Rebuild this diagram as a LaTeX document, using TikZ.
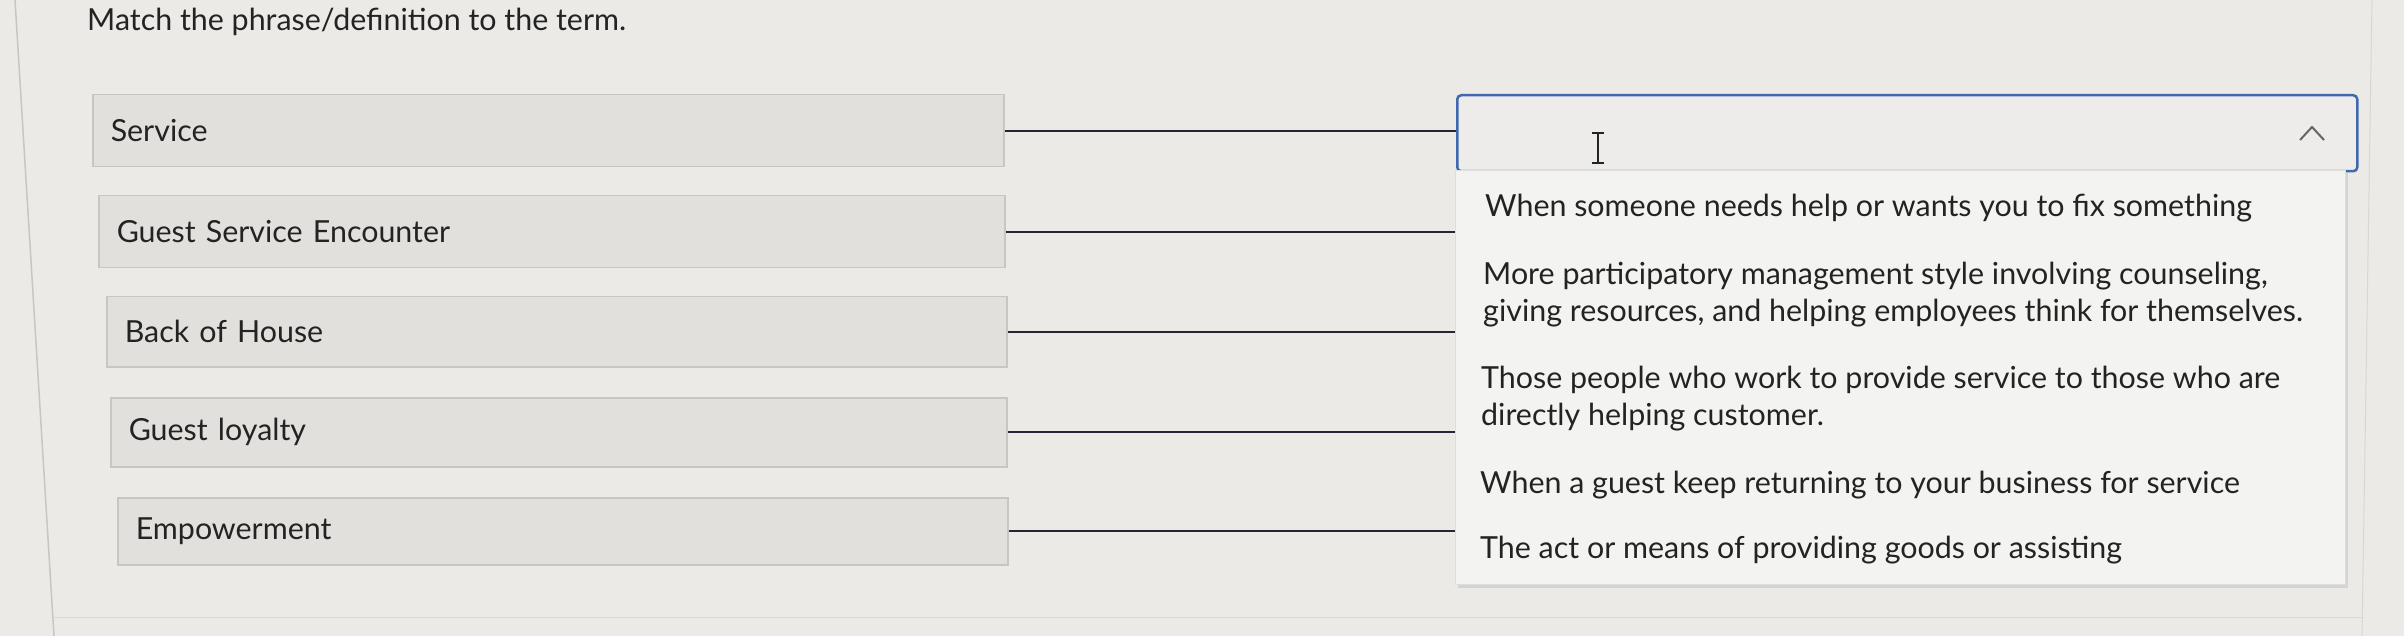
\documentclass[tikz,border=0pt]{standalone}
\usepackage{fontspec}
\setmainfont{Lato}
\usetikzlibrary{positioning,shadows}
\definecolor{pagebg}{HTML}{EBEAE7}
\definecolor{boxfill}{HTML}{E1E0DD}
\definecolor{boxline}{HTML}{C6C6C4}
\definecolor{listfill}{HTML}{F3F3F1}
\definecolor{dropblue}{HTML}{3F68AE}
\definecolor{inktext}{HTML}{232323}
\definecolor{linkink}{HTML}{2A2236}
\begin{document}
\begin{tikzpicture}[x=1pt,y=-1pt,
  every node/.style={font=\fontsize{30.4}{37}\selectfont,text=inktext,inner sep=0pt},
  term/.style={draw=boxline,fill=boxfill,line width=1.5pt,anchor=north west,
    inner xsep=18pt,align=left,minimum height=#1},
  link/.style={draw=linkink,line width=2pt},
  choice/.style={anchor=west,align=left}]
\useasboundingbox[fill=pagebg] (0,0) rectangle (2404,636);
\draw[boxline,line width=1.5pt] (15,0) -- (54,636);
\draw[boxline!70,line width=1pt] (54,617) -- (2362,617);
\draw[boxline!70,line width=1pt] (2372,0) -- (2362,636);
\node[anchor=base west] (title) at (87,31) {Match the phrase/definition to the term.};
% terms
\node[term=72pt,text width=875pt] (t1) at (92,94) {Service};
\node[term=72pt,text width=870pt] (t2) at (98,195) {Guest Service Encounter};
\node[term=70pt,text width=864pt] (t3) at (106,296) {Back of House};
\node[term=69pt,text width=860pt] (t4) at (110,397) {Guest loyalty};
\node[term=67pt,text width=854pt] (t5) at (117,497) {Empowerment};
% dropdown and its open list
\node[draw=dropblue,fill=boxfill!60!white,line width=2.5pt,rounded corners=4pt,
  anchor=north west,minimum width=900pt,minimum height=76pt] (drop) at (1456,94) {};
\node[draw=boxline!60,fill=listfill,line width=1pt,anchor=north west,
  minimum width=890pt,minimum height=414pt,
  drop shadow={opacity=0.2,shadow xshift=2pt,shadow yshift=-3pt}] (list) at (1455,170) {};
\draw[inktext,line width=2pt] (1592,133) -- (1604,133) (1598,133) -- (1598,163) (1592,163) -- (1604,163);
\draw[inktext!70,line width=2pt] (2300,140) -- (2312,127) -- (2324,140);
\node[choice] (c1) at (1485,208) {When someone needs help or wants you to fix something};
\node[choice] (c2) at (1483,295) {More participatory management style involving counseling,\\giving resources, and helping employees think for themselves.};
\node[choice] (c3) at (1481,399) {Those people who work to provide service to those who are\\directly helping customer.};
\node[choice] (c4) at (1480,485) {When a guest keep returning to your business for service};
\node[choice] (c5) at (1480,550) {The act or means of providing goods or assisting};
% answer lines
\draw[link] (t1.east) -- (t1.east -| drop.west);
\draw[link] (t2.east) -- (t2.east -| list.west);
\draw[link] (t3.east) -- (t3.east -| list.west);
\draw[link] (t4.east) -- (t4.east -| list.west);
\draw[link] (t5.east) -- (t5.east -| list.west);
\end{tikzpicture}
\end{document}
